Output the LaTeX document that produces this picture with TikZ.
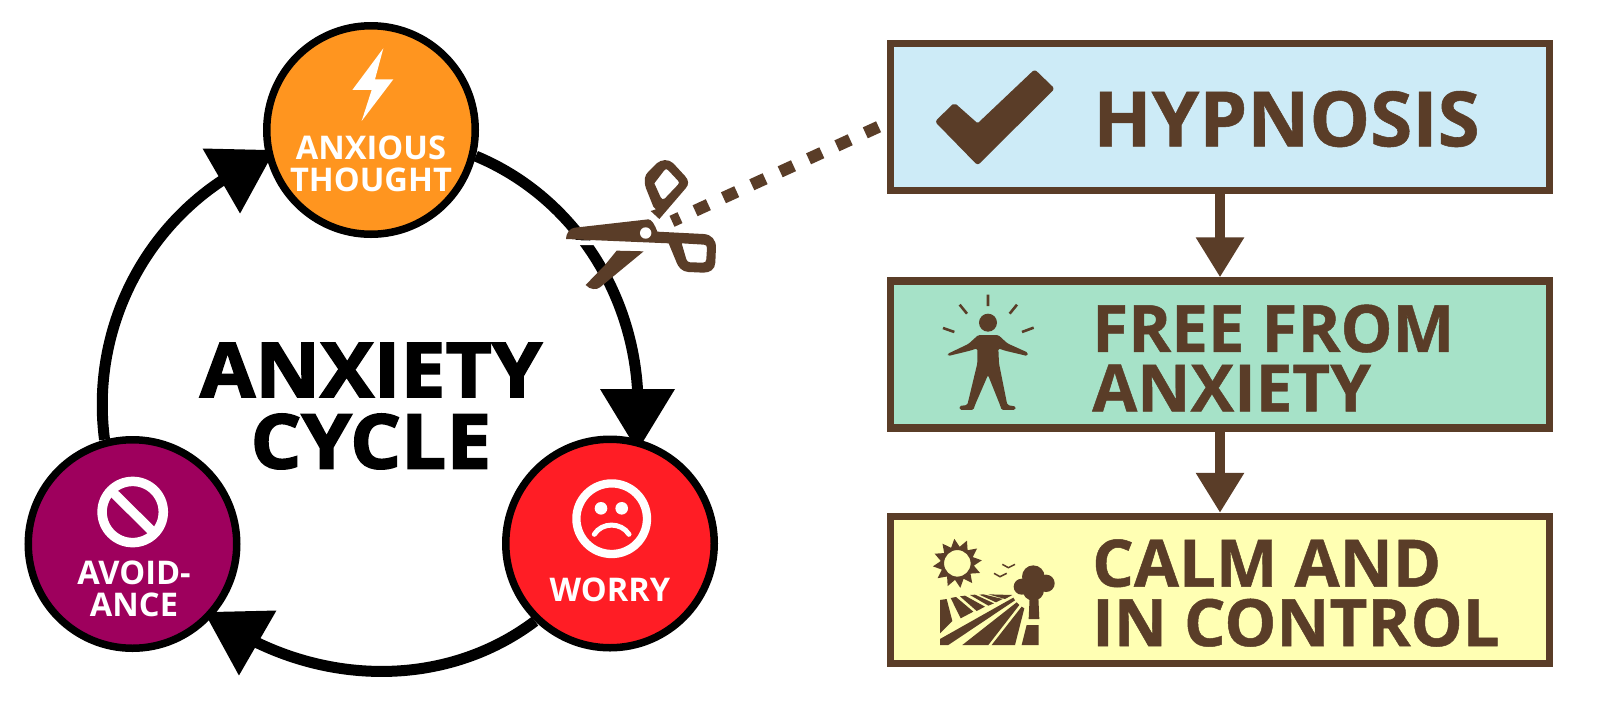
\documentclass[tikz,border=0pt]{standalone}
\usepackage{fontspec}
\usetikzlibrary{arrows.meta}
\setmainfont{Open Sans}
\newfontfamily\xbold[FakeBold=2.6,FakeStretch=1.06,LetterSpace=0.6,Kerning=Off]{Open Sans}
\newfontfamily\bxf[FakeBold=0.7]{Open Sans}
\pgfdeclarelayer{back}
\pgfsetlayers{back,main}
\definecolor{brn}{HTML}{5A3D28}
\definecolor{cblue}{HTML}{CDEBF7}
\definecolor{cgreen}{HTML}{A6E2C8}
\definecolor{cyell}{HTML}{FFFFB3}
\definecolor{corange}{HTML}{FF951F}
\definecolor{cred}{HTML}{FF1D25}
\definecolor{cpurp}{HTML}{9E005D}
\tikzset{
 stage/.style={circle,draw=black,line width=7.5pt,minimum size=208.5pt,inner sep=0pt},
 stagetxt/.style={text=white,font=\bfseries\fontsize{32.6}{32}\selectfont,align=center,inner sep=0pt},
 boxn/.style={draw=brn,line width=7.5pt,minimum width=659pt,minimum height=147pt,inner sep=0pt},
 boxtxt/.style={text=brn,font=\bxf\bfseries\fontsize{65.4}{59.5}\selectfont,align=left,inner sep=0pt,anchor=west},
 cyc/.style={line width=11pt,draw=black,-{Triangle[length=62pt,width=72pt]}},
 flow/.style={line width=9.5pt,draw=brn,-{Triangle[length=40pt,width=46pt]}},
}
\begin{document}
\begin{tikzpicture}[x=1pt,y=-1pt]
\useasboundingbox (0,0) rectangle (1600,713);
% stages
\node[stage,fill=corange] (anx) at (371,130) {};
\node[stage,fill=cred] (wor) at (610,543.5) {};
\node[stage,fill=cpurp] (avo) at (132.5,544) {};
\node[stagetxt] (anxt) at (371,164) {ANXIOUS\\THOUGHT};
\node[stagetxt] (wort) at (610,590) {WORRY};
\node[stagetxt] (avot) at (134,589) {AVOID-\\ANCE};
\node[inner sep=0pt,font=\xbold\bfseries\fontsize{75}{71.5}\selectfont,align=center] (title) at (371,406) {ANXIETY\\CYCLE};
% connector ends
\coordinate (tipA) at (275,150);
\coordinate (tipB) at (637.5,451);
\coordinate (tipC) at (204,612);
\coordinate (baseA) at (221.3,181);
\coordinate (baseB) at (637.5,389.2);
\coordinate (baseC) at (257.7,643);
\begin{pgfonlayer}{back}
\fill[white] (0,0) rectangle (1600,713);
\draw[cyc] (anx.-14) to[out=-22.6,in=93.6,out distance=102pt,in distance=102pt] (baseB) -- (tipB);
\draw[cyc] (wor.-134) to[out=-143,in=-25.5,out distance=100pt,in distance=100pt] (baseC) -- (tipC);
\draw[cyc] (avo.105) to[out=97.5,in=213.7,out distance=102pt,in distance=102pt] (baseA) -- (tipA);
\end{pgfonlayer}
% boxes
\node[boxn,fill=cblue] (b1) at (1220,117.2) {};
\node[boxn,fill=cgreen] (b2) at (1220,354.5) {};
\node[boxn,fill=cyell] (b3) at (1220,590) {};
\node[boxtxt,font=\bxf\bfseries\fontsize{76.4}{80}\selectfont] (t1) at (1093,119) {HYPNOSIS};
\node[boxtxt] (t2) at (1092,358) {FREE FROM\\ANXIETY};
\node[boxtxt] (t3) at (1092,593) {CALM AND\\IN CONTROL};
\draw[flow] (b1.south) -- (b2.north);
\draw[flow] (b2.south) -- (b3.north);
% cut line
\coordinate (cutend) at (672,221.3);
\draw[brn,line width=12pt,dash pattern=on 14.6pt off 16.6pt,dash phase=22.2pt] (b1.-179.55) -- (cutend);
% scissors
\begin{scope}[shift={(540,140)},x=0.3333pt,y=-0.3333pt]
\fill[white] (60,299) -- (200,303) -- (200,316) -- (60,315) -- cycle;
\fill[brn,even odd rule] (78,297) .. controls (80,275) and (90,265) .. (105,263) -- (325,238) .. controls (335,238) and (345,255) .. (352,275) -- (490,282) .. controls (515,283) and (528,300) .. (528,322) -- (526,368) .. controls (525,388) and (510,398) .. (490,398) -- (445,396) .. controls (425,395) and (415,380) .. (410,368) -- (386,310) -- cycle
 (425,310) -- (492,314) .. controls (498,314) and (501,318) .. (501,324) -- (499,358) .. controls (499,365) and (495,368) .. (489,368) -- (450,367) .. controls (445,367) and (441,363) .. (439,358) -- cycle;
\fill[white] (317,279) circle (5.7pt);
\fill[brn] (230,332) -- (311,334) -- (180,442) .. controls (170,450) and (150,450) .. (137,435) -- (195,375) -- cycle;
\fill[brn,even odd rule] (332,213) -- (348,208) -- (340,200) -- (318,145) .. controls (310,120) and (315,105) .. (325,95) -- (350,70) .. controls (365,58) and (385,56) .. (400,70) -- (435,108) .. controls (447,120) and (447,135) .. (437,145) -- (358,237) -- cycle
 (343,130) -- (372,92) .. controls (376,86) and (380,86) .. (384,90) -- (414,122) .. controls (418,126) and (418,130) .. (414,134) -- (375,175) .. controls (370,180) and (365,178) .. (362,172) -- cycle;
\end{scope}
% checkmark
\begin{scope}[shift={(900,50)},x=0.3333pt,y=-0.3333pt]
\fill[brn,draw=brn,line width=2pt,line join=round,rounded corners=2pt] (109,215) -- (163,162) -- (233,224) -- (404,62) -- (460,116) -- (233,342) -- cycle;
\end{scope}
% person
\begin{scope}[shift={(920,280)},x=0.3333pt,y=-0.3333pt]
\fill[brn] (204,128) circle (9pt);
\fill[brn,rounded corners=1.5pt] (82,222) -- (145,192) -- (175,165) -- (235,165) -- (262,190) -- (324,218) -- (322,228) -- (255,212) -- (235,205) -- (237,250) -- (262,375) -- (288,380) -- (285,390) -- (245,390) -- (240,375) -- (204,285) -- (165,375) -- (160,390) -- (120,390) -- (118,378) -- (142,375) -- (172,250) -- (172,205) -- (150,212) -- (85,228) -- cycle;
\draw[brn,line width=2.6pt] (204,44) -- (204,78) (119,74) -- (141,101) (291,74) -- (269,101) (69,144) -- (103,156) (341,143) -- (306,156);
\end{scope}
% landscape
\begin{scope}[shift={(920,525)},x=0.3333pt,y=-0.3333pt]
\fill[brn,even odd rule] plot[samples at={0,15,...,345},variable=\a] ({112+(mod(\a,30)==0?50:74)*cos(\a+8)},{115+(mod(\a,30)==0?50:74)*sin(\a+8)}) -- cycle (112,115) circle (13.3pt);
\draw[brn,line width=1.5pt] (247,118) -- (265,128) -- (285,118) (222,145) -- (240,155) -- (260,145);
\fill[brn] (340,155) circle (11.3pt) (305,185) circle (8pt) (378,175) circle (8.7pt) (340,195) circle (10.7pt);
\fill[brn] (329,215) -- (355,215) -- (358,282) -- (326,282) -- cycle;
\fill[brn] (320,300) -- (356,300) -- (356,360) -- (305,360) -- cycle;
\fill[brn] (60,225) -- (80,222) -- (97,288) -- (60,325) -- cycle
 (92,219) -- (108,216) -- (160,260) -- (122,280) -- cycle
 (120,214) -- (135,212) -- (195,245) -- (170,258) -- cycle
 (150,210) -- (165,209) -- (222,235) -- (205,242) -- cycle
 (178,209) -- (190,208) -- (248,222) -- (228,232) -- cycle
 (205,208) -- (277,210) -- (255,222) -- cycle
 (280,218) -- (60,342) -- (60,360) -- (85,360) -- (285,226) -- cycle
 (290,232) -- (127,360) -- (205,360) -- (298,240) -- cycle
 (305,245) -- (215,360) -- (285,360) -- (313,250) -- cycle;
\end{scope}
% bolt
\begin{scope}[shift={(260,20)},x=0.3333pt,y=-0.3333pt]
\fill[white] (370,85) -- (277,210) -- (335,210) -- (305,303) -- (400,178) -- (345,178) -- cycle;
\end{scope}
% no sign
\draw[white,line width=9.5pt] (132.7,512) circle (30.6pt);
\draw[white,line width=9.5pt] (112,491.5) -- (154,533);
% sad face
\draw[white,line width=8.3pt] (611.7,518.7) circle (35.3pt);
\fill[white] (601,508.3) circle (6.3pt) (621.7,508.3) circle (6.3pt);
\draw[white,line width=5pt,line cap=round] (594.3,534.3) .. controls (602,522) and (621,522) .. (629,534.3);
\end{tikzpicture}
\end{document}
